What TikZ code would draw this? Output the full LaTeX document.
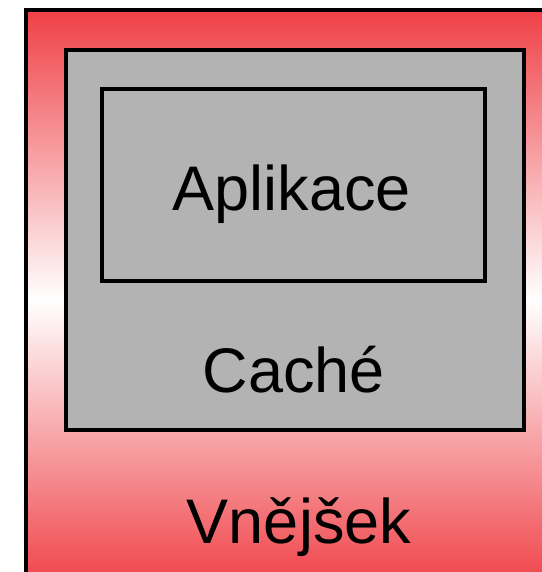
\documentclass[tikz,border=0pt]{standalone}
\usepackage{fontspec}
\setmainfont{Liberation Sans}
\definecolor{outred}{RGB}{239,64,70}
\definecolor{boxgray}{RGB}{179,179,179}
\begin{document}
\begin{tikzpicture}[x=1pt,y=-1pt,
  frame/.style={draw=black, line width=4pt, inner sep=0pt, outer sep=0pt},
  lbl/.style={font=\fontsize{63}{70}\selectfont, anchor=base, inner sep=0pt}]
\useasboundingbox (0,0) rectangle (541,572);
\node[frame, top color=outred, bottom color=outred, middle color=white,
      minimum width=534pt, minimum height=580pt] (outer) at (293,300) {};
\node[frame, fill=boxgray, minimum width=458pt, minimum height=380pt] (cache) at (295,240) {};
\node[frame, fill=boxgray, minimum width=383pt, minimum height=192pt] (app) at (293.5,185) {};
\node[lbl] (tapp) at (292,210) {Aplikace};
\node[lbl] (tcache) at (294,392) {Caché};
\node[lbl] (tout) at (299,543) {Vnějšek};
\end{tikzpicture}
\end{document}
